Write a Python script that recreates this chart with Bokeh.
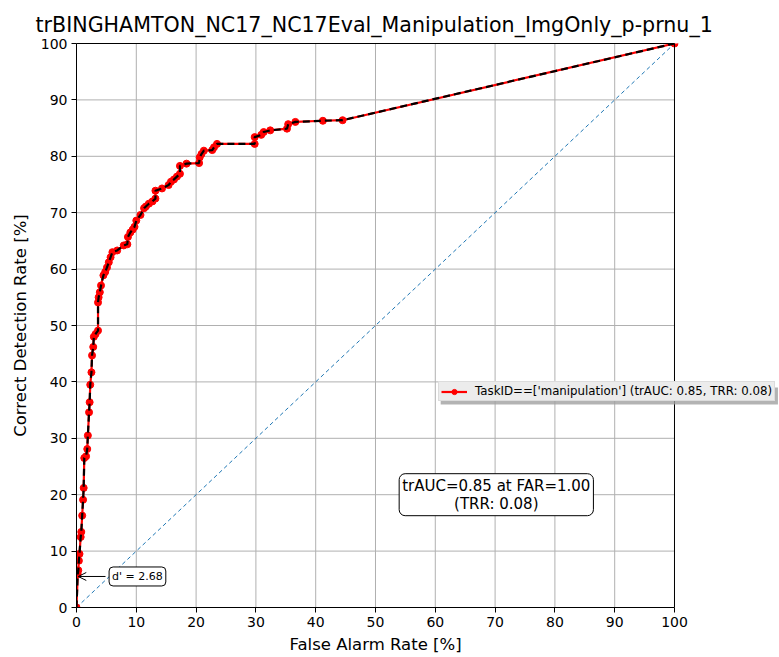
from bokeh.plotting import figure
from bokeh.models import (Range1d, Label, Arrow, OpenHead, Legend, LegendItem,
                          BoxAnnotation, FixedTicker, LinearAxis, Span, Title)
from bokeh.embed import file_html
from bokeh.resources import INLINE

TITLE = "trBINGHAMTON_NC17_NC17Eval_Manipulation_ImgOnly_p-prnu_1"

# ROC operating points (false alarm rate, correct detection rate), in percent
fa_rate = [0.0, 0.2, 0.3, 0.4, 0.5, 0.7, 0.8, 0.95, 1.1, 1.2, 1.3, 1.6,
           1.8, 1.9, 2.1, 2.2, 2.3, 2.5, 2.6, 2.8, 2.9, 3.2, 3.6, 3.6,
           3.7, 3.9, 4.1, 4.5, 4.8, 5.1, 5.4, 5.7, 6.0, 6.8, 7.9, 8.5,
           8.6, 9.0, 9.4, 9.7, 10.0, 10.7, 11.3, 11.6, 12.1, 12.7, 13.2, 13.2,
           14.3, 15.4, 15.8, 16.3, 16.8, 17.3, 17.3, 18.4, 20.5, 20.6, 20.9, 21.3,
           22.7, 23.0, 23.5, 29.8, 29.8, 30.9, 31.3, 32.4, 35.2, 35.4, 36.6, 41.2,
           44.5, 100.0]
cd_rate = [0.0, 5.9, 6.6, 8.3, 9.5, 12.5, 13.4, 16.3, 19.1, 21.2, 26.5, 26.8,
           28.1, 30.5, 34.6, 36.4, 39.5, 41.7, 44.7, 46.2, 48.0, 48.5, 49.1, 54.1,
           55.0, 55.9, 57.1, 58.9, 59.5, 60.3, 61.2, 62.1, 63.0, 63.3, 64.2, 64.4,
           65.7, 66.5, 67.0, 67.5, 68.6, 69.6, 70.8, 71.1, 71.6, 72.0, 72.5, 73.9,
           74.3, 74.9, 75.5, 75.9, 76.4, 76.9, 78.3, 78.7, 78.8, 79.8, 80.4, 81.0,
           81.1, 81.6, 82.2, 82.2, 83.4, 83.8, 84.3, 84.6, 84.9, 85.7, 86.1, 86.3,
           86.4, 100.0]

chance_x = [0, 100]
chance_y = [0, 100]
ticks = [0, 10, 20, 30, 40, 50, 60, 70, 80, 90, 100]

task_id = "manipulation"
tr_auc = 0.85
trr = 0.08
far_stop = 1.00
d_prime = 2.68
d_prime_point = (0.3, 5.5)

FONT = "DejaVu Sans"

# the frame runs past x=100 so the legend can hang over the right edge;
# axes, grid and spines are limited to 0..100
p = figure(width=779, height=657, output_backend="svg", toolbar_location=None,
           x_range=Range1d(0, 117.56), y_range=Range1d(0, 100), title=None,
           min_border_left=76, min_border_right=0, min_border_top=43,
           min_border_bottom=50)

for ax in (p.xaxis, p.yaxis):
    ax.ticker = FixedTicker(ticks=ticks)
    ax.major_label_text_font = FONT
    ax.major_label_text_font_size = "14px"
    ax.major_label_text_color = "black"
    ax.axis_label_text_font = FONT
    ax.axis_label_text_font_size = "16.5px"
    ax.axis_label_text_font_style = "normal"
    ax.axis_label_text_color = "black"
    ax.axis_line_color = "black"
    ax.major_tick_line_color = "black"
    ax.major_tick_out = 5
    ax.major_tick_in = 0
    ax.minor_tick_line_color = None
    ax.major_label_standoff = 4

p.xaxis.bounds = (0, 100)
p.yaxis.axis_label = "Correct Detection Rate [%]"
p.yaxis.axis_label_standoff = 8

# top spine: a bare axis line, no ticks or labels
top_spine = LinearAxis(ticker=FixedTicker(ticks=[-1000]), bounds=(0, 100),
                       axis_line_color="black", major_tick_line_color=None,
                       minor_tick_line_color=None, major_tick_out=0,
                       major_tick_in=0, major_label_standoff=0,
                       major_label_text_color=None,
                       major_label_text_font_size="1px")
p.add_layout(top_spine, "above")

p.add_layout(Title(text=TITLE, align="left", offset=-41,
                   text_font=FONT, text_font_size="20.6px",
                   text_font_style="normal", text_color="black",
                   standoff=14), "above")

# x axis label, centred under the 0..100 span
p.add_layout(Title(text="False Alarm Rate [%]", align="left", offset=213,
                   text_font=FONT, text_font_size="16.5px",
                   text_font_style="normal", text_color="black",
                   standoff=7), "below")

# right spine
p.add_layout(Span(location=100, dimension="height", line_color="black",
                  line_width=1))

# grid lines at the tick positions, inside 0..100 only
p.xgrid.visible = False
p.ygrid.visible = False
p.segment(x0=ticks, y0=[0] * len(ticks), x1=ticks, y1=[100] * len(ticks),
          line_color="#b0b0b0", line_width=1)
p.segment(x0=[0] * len(ticks), y0=ticks, x1=[100] * len(ticks), y1=ticks,
          line_color="#b0b0b0", line_width=1)

p.outline_line_color = None
p.background_fill_color = "white"
p.border_fill_color = "white"

# chance diagonal
p.line(chance_x, chance_y, line_color="#1f77b4", line_width=1, line_dash="4 3")

# ROC curve: red line with markers, black dashes over it
roc_line = p.line(fa_rate, cd_rate, line_color="red", line_width=2.2)
roc_pts = p.scatter(fa_rate, cd_rate, marker="circle", size=7,
                    fill_color="red", line_color="red")
p.line(fa_rate, cd_rate, line_color="black", line_width=2.2, line_dash="7 4")

# legend with a drop shadow
shadow = BoxAnnotation(left=60.9, right=117.3, top=39.0, bottom=36.0,
                       fill_color="#a0a0a0", fill_alpha=0.8, line_color=None)
p.add_layout(shadow)

legend = Legend(items=[LegendItem(
    label=f"TaskID==['{task_id}'] (trAUC: {tr_auc:.2f}, TRR: {trr:.2f})",
    renderers=[roc_line, roc_pts])],
    location=(362, 206))
legend.background_fill_color = "#ececec"
legend.background_fill_alpha = 1.0
legend.border_line_color = "#cccccc"
legend.label_text_font = FONT
legend.label_text_font_size = "11.8px"
legend.label_text_color = "black"
legend.label_height = 13
legend.glyph_width = 26
legend.glyph_height = 13
legend.label_standoff = 8
legend.padding = 2
legend.margin = 0
legend.spacing = 0
p.add_layout(legend)

# trAUC summary box
auc_box = Label(x=70.2, y=20.0,
                text=f"trAUC={tr_auc:.2f} at FAR={far_stop:.2f}\n(TRR: {trr:.2f})",
                text_align="center", text_baseline="middle",
                text_font=FONT, text_font_size="15px", text_color="black",
                text_line_height=1.0,
                background_fill_color="white", border_line_color="black",
                border_line_width=1, border_radius=6, padding=3)
p.add_layout(auc_box)

# d' annotation with arrow
dp_label = Label(x=5.45, y=d_prime_point[1], text=f"d' = {d_prime:.2f}",
                 text_align="left", text_baseline="middle",
                 text_font=FONT, text_font_size="11px", text_color="black",
                 background_fill_color="white", border_line_color="black",
                 border_line_width=1, border_radius=4, padding=3)
p.add_layout(dp_label)
p.add_layout(Arrow(end=OpenHead(size=8, line_width=1, line_color="black"),
                   x_start=4.85, y_start=d_prime_point[1],
                   x_end=d_prime_point[0], y_end=d_prime_point[1],
                   line_color="black", line_width=1))

open("out.html", "w").write(file_html(p, INLINE))
